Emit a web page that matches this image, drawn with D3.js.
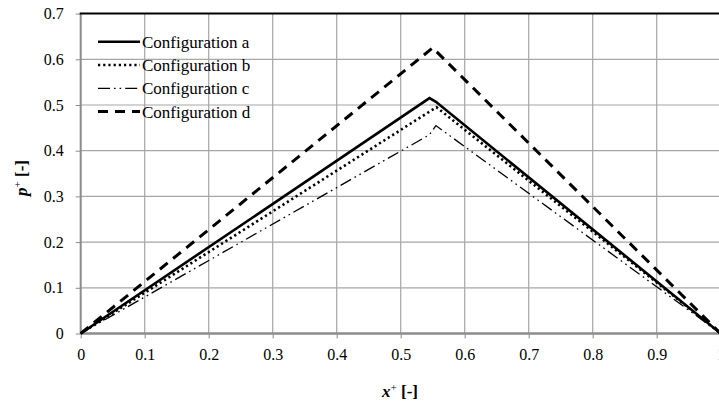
<!DOCTYPE html>
<html>
<head>
<meta charset="utf-8">
<script src="https://cdn.jsdelivr.net/npm/d3@7"></script>
<style>
  body { margin: 0; background: #fff; }
</style>
</head>
<body>
<div id="chart"></div>
<script>
// values
var xTicks = [0, 0.1, 0.2, 0.3, 0.4, 0.5, 0.6, 0.7, 0.8, 0.9, 1];
var yTicks = [0, 0.1, 0.2, 0.3, 0.4, 0.5, 0.6, 0.7];
var seriesNames = ["Configuration a", "Configuration b", "Configuration c", "Configuration d"];

var xA = [0, 0.545, 0.555, 1], pA = [0, 0.515, 0.507, 0];
var xB = [0, 0.55, 0.556, 1],  pB = [0, 0.49, 0.495, 0];
var xC = [0, 0.545, 0.555, 1], pC = [0, 0.435, 0.455, 0];
var xD = [0, 0.55, 1],         pD = [0, 0.625, 0];

(function () {
  "use strict";
  var W = 719, H = 406;
  var FONT = "Liberation Serif";

  var svg = d3.select("#chart").append("svg")
    .attr("width", W).attr("height", H)
    .style("font-family", FONT);

  var x = d3.scaleLinear().domain([0, 1]).range([80.7, 720.7]);
  var y = d3.scaleLinear().domain([0, 0.7]).range([333.5, 13.6]);

  // grid
  svg.append("g").selectAll("line").data(yTicks.slice(1, -1)).enter().append("line")
    .attr("x1", x(0)).attr("x2", x(1)).attr("y1", d => y(d)).attr("y2", d => y(d))
    .attr("stroke", "#a6a6a6").attr("stroke-width", 1.2);
  svg.append("g").selectAll("line").data(xTicks.slice(1)).enter().append("line")
    .attr("y1", y(0)).attr("y2", y(0.7)).attr("x1", d => x(d)).attr("x2", d => x(d))
    .attr("stroke", "#a6a6a6").attr("stroke-width", 1.2);

  // axes
  var yAxis = d3.axisLeft(y).tickValues(yTicks).tickSize(5).tickPadding(12)
    .tickFormat(d => d === 0 ? "0" : d3.format(".1f")(d));
  var gy = svg.append("g").attr("transform", "translate(" + x(0) + ",0)").call(yAxis);
  var xAxis = d3.axisBottom(x).tickValues(xTicks).tickSize(5).tickPadding(7)
    .tickFormat(d => (d === 0 || d === 1) ? String(d) : d3.format(".1f")(d));
  var gx = svg.append("g").attr("transform", "translate(0," + y(0) + ")").call(xAxis);

  [gx, gy].forEach(function (g) {
    g.attr("font-family", FONT).attr("font-size", 16);
    g.select(".domain").attr("stroke", "#8c8c8c");
    g.selectAll(".tick line").attr("stroke", "#8c8c8c");
    g.selectAll(".tick text")
      .style("font-family", FONT).style("font-size", "16px").attr("fill", "#000");
  });
  gx.select(".domain").attr("stroke-width", 2.5).attr("d", "M" + x(0) + ",0H" + x(1));
  gy.select(".domain").attr("stroke-width", 2).attr("d", "M0," + y(0) + "V" + y(0.7));
  gx.selectAll(".tick text").attr("dy", "0.9em");

  // top border
  svg.append("line")
    .attr("x1", x(0) - 1).attr("x2", x(1)).attr("y1", y(0.7)).attr("y2", y(0.7))
    .attr("stroke", "#000").attr("stroke-width", 2);

  // series
  var styles = [
    { dash: null, width: 2.6 },
    { dash: "2.2,3", width: 2.6 },
    { dash: "12,4,1.6,4,1.6,4", width: 1.3 },
    { dash: "10,7", width: 3 }
  ];
  var series = [
    xA.map((v, i) => [v, pA[i]]),
    xB.map((v, i) => [v, pB[i]]),
    xC.map((v, i) => [v, pC[i]]),
    xD.map((v, i) => [v, pD[i]])
  ];
  var line = d3.line().x(d => x(d[0])).y(d => y(d[1]));

  svg.append("g").selectAll("path").data(series).enter().append("path")
    .attr("d", line)
    .attr("fill", "none").attr("stroke", "#000")
    .attr("stroke-width", (d, i) => styles[i].width)
    .attr("stroke-dasharray", (d, i) => styles[i].dash)
    .attr("stroke-linejoin", "miter");

  // legend
  var legY = [41.7, 65, 88.3, 111.6];
  var leg = svg.append("g");
  leg.selectAll("line").data(seriesNames).enter().append("line")
    .attr("x1", 98).attr("x2", 140)
    .attr("y1", (d, i) => legY[i]).attr("y2", (d, i) => legY[i])
    .attr("stroke", "#000")
    .attr("stroke-width", (d, i) => styles[i].width)
    .attr("stroke-dasharray", (d, i) => styles[i].dash);
  leg.selectAll("text").data(seriesNames).enter().append("text")
    .attr("x", 142).attr("y", (d, i) => legY[i]).attr("dy", "0.35em")
    .style("font-family", FONT).style("font-size", "17px").attr("fill", "#000")
    .text(d => d);

  // axis titles
  var xt = svg.append("text")
    .attr("x", 400).attr("y", 397)
    .attr("text-anchor", "middle")
    .style("font-family", FONT).style("font-size", "17px").style("font-weight", "bold");
  xt.append("tspan").style("font-style", "italic").text("x");
  xt.append("tspan").attr("dy", -6).style("font-size", "11px").style("font-weight", "normal").text("+");
  xt.append("tspan").attr("dy", 6).text(" [-]");

  var yt = svg.append("text")
    .attr("transform", "translate(27,178) rotate(-90)")
    .attr("text-anchor", "middle")
    .style("font-family", FONT).style("font-size", "17px").style("font-weight", "bold");
  yt.append("tspan").style("font-style", "italic").text("p");
  yt.append("tspan").attr("dy", -6).style("font-size", "11px").style("font-weight", "normal").text("+");
  yt.append("tspan").attr("dy", 6).text(" [-]");
})();
</script>
</body>
</html>
